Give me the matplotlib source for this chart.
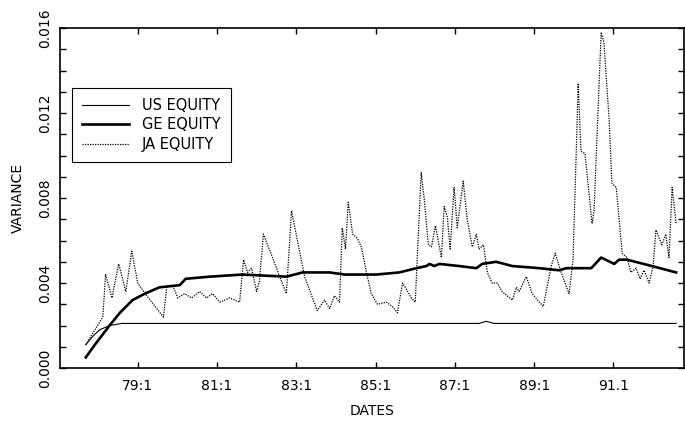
import numpy as np
import matplotlib.pyplot as plt
from matplotlib.ticker import MultipleLocator

# dates as decimal years, variances
ja_dates = [1977.69, 1978.12, 1978.19, 1978.35, 1978.52, 1978.70, 1978.85, 1979.00,
            1979.23, 1979.48, 1979.65, 1979.73, 1979.88, 1980.01, 1980.18, 1980.36,
            1980.56, 1980.74, 1980.89, 1981.07, 1981.32, 1981.57, 1981.67, 1981.77,
            1981.87, 1982.00, 1982.07, 1982.17, 1982.40, 1982.58, 1982.75, 1982.88,
            1983.21, 1983.53, 1983.71, 1983.84, 1983.96, 1984.09, 1984.16, 1984.24,
            1984.31, 1984.42, 1984.54, 1984.64, 1984.77, 1984.89, 1985.05, 1985.27,
            1985.42, 1985.55, 1985.68, 1985.78, 1985.90, 1986.00, 1986.15, 1986.23,
            1986.33, 1986.41, 1986.51, 1986.66, 1986.73, 1986.81, 1986.88, 1986.98,
            1987.06, 1987.21, 1987.31, 1987.44, 1987.54, 1987.61, 1987.72, 1987.82,
            1987.94, 1988.07, 1988.19, 1988.32, 1988.45, 1988.55, 1988.62, 1988.80,
            1988.95, 1989.13, 1989.23, 1989.43, 1989.53, 1989.68, 1989.88, 1989.98,
            1990.06, 1990.11, 1990.18, 1990.28, 1990.46, 1990.51, 1990.69, 1990.76,
            1990.89, 1990.96, 1991.07, 1991.22, 1991.34, 1991.44, 1991.57, 1991.67,
            1991.77, 1991.90, 1992.00, 1992.07, 1992.22, 1992.32, 1992.40, 1992.48,
            1992.58]
ja_var = [0.0011, 0.0024, 0.0044, 0.0033, 0.0049, 0.0036, 0.0055, 0.0040,
          0.0034, 0.0028, 0.0024, 0.0038, 0.0039, 0.0033, 0.0035, 0.0033,
          0.0036, 0.0033, 0.0035, 0.0031, 0.0033, 0.0031, 0.0051, 0.0045,
          0.0047, 0.0036, 0.0041, 0.0063, 0.0052, 0.0043, 0.0035, 0.0074,
          0.0043, 0.0027, 0.0032, 0.0028, 0.0034, 0.0031, 0.0066, 0.0056,
          0.0078, 0.0063, 0.0061, 0.0057, 0.0045, 0.0035, 0.0030, 0.0031,
          0.0029, 0.0026, 0.0040, 0.0037, 0.0033, 0.0031, 0.0092, 0.0079,
          0.0058, 0.0057, 0.0067, 0.0052, 0.0076, 0.0071, 0.0056, 0.0085,
          0.0066, 0.0088, 0.0070, 0.0057, 0.0063, 0.0056, 0.0058, 0.0045,
          0.0040, 0.0040, 0.0036, 0.0034, 0.0032, 0.0038, 0.0036, 0.0043,
          0.0035, 0.0031, 0.0029, 0.0048, 0.0054, 0.0045, 0.0035, 0.0051,
          0.0101, 0.0134, 0.0102, 0.0101, 0.0068, 0.0074, 0.0158, 0.0153,
          0.0117, 0.0087, 0.0085, 0.0054, 0.0052, 0.0045, 0.0047, 0.0042,
          0.0046, 0.0040, 0.0048, 0.0065, 0.0058, 0.0063, 0.0052, 0.0085,
          0.0068]

ge_dates = [1977.69, 1977.92, 1978.29, 1978.55, 1978.87, 1979.18, 1979.55, 1980.06,
            1980.21, 1980.81, 1981.64, 1982.75, 1983.16, 1983.84, 1984.22, 1985.02,
            1985.60, 1986.03, 1986.28, 1986.36, 1986.48, 1986.61, 1987.11, 1987.54,
            1987.69, 1988.04, 1988.45, 1989.13, 1989.63, 1989.81, 1990.01, 1990.44,
            1990.69, 1991.02, 1991.14, 1991.34, 1991.97, 1992.58]
ge_var = [0.0005, 0.0011, 0.0020, 0.0026, 0.0032, 0.0035, 0.0038, 0.0039,
          0.0042, 0.0043, 0.0044, 0.0043, 0.0045, 0.0045, 0.0044, 0.0044,
          0.0045, 0.0047, 0.0048, 0.0049, 0.0048, 0.0049, 0.0048, 0.0047,
          0.0049, 0.0050, 0.0048, 0.0047, 0.0046, 0.0047, 0.0047, 0.0047,
          0.0052, 0.0049, 0.0051, 0.0051, 0.0048, 0.0045]

us_dates = [1977.69, 1977.87, 1978.04, 1978.29, 1978.60, 1987.61, 1987.79, 1987.99, 1992.58]
us_var = [0.0011, 0.0015, 0.0018, 0.0020, 0.0021, 0.0021, 0.0022, 0.0021, 0.0021]

tick_years = [1979, 1981, 1983, 1985, 1987, 1989, 1991]
tick_labels = ['79:1', '81:1', '83:1', '85:1', '87:1', '89:1', '91.1']

plt.rcParams['font.family'] = ['DejaVu Sans']

fig = plt.figure(figsize=(6.85, 4.25), dpi=100)
ax = fig.add_axes([0.0876, 0.134, 0.911, 0.80])

ax.plot(us_dates, us_var, color='black', lw=0.8, label='US EQUITY')
ax.plot(ge_dates, ge_var, color='black', lw=1.9, label='GE EQUITY')
ax.plot(ja_dates, ja_var, color='black', lw=0.9, linestyle=(0, (1, 1)), label='JA EQUITY')

ax.set_xlim(1977.04, 1992.78)
ax.set_ylim(0, 0.016)
ax.set_xticks(tick_years)
ax.set_xticklabels(tick_labels, fontsize=10)
ax.yaxis.set_major_locator(MultipleLocator(0.004))
ax.yaxis.set_minor_locator(MultipleLocator(0.001))
ax.set_yticklabels(['%.3f' % v for v in ax.get_yticks()], rotation=90, va='center', fontsize=10)
ax.tick_params(which='both', direction='in', top=True, right=True, length=4, width=1)
ax.tick_params(axis='y', pad=6)
ax.tick_params(axis='x', pad=8)
for s in ax.spines.values():
    s.set_linewidth(1.2)

ax.set_xlabel('DATES', fontsize=10, labelpad=8)
ax.set_ylabel('VARIANCE', fontsize=10, labelpad=9)

leg = ax.legend(loc='upper left', bbox_to_anchor=(0.019, 0.824), borderaxespad=0,
                fontsize=10.5, handlelength=3.2, handletextpad=0.9, fancybox=False,
                edgecolor='black', framealpha=1, borderpad=0.7, labelspacing=0.3)
leg.get_frame().set_linewidth(0.8)

fig.savefig('out.png', dpi=100)
